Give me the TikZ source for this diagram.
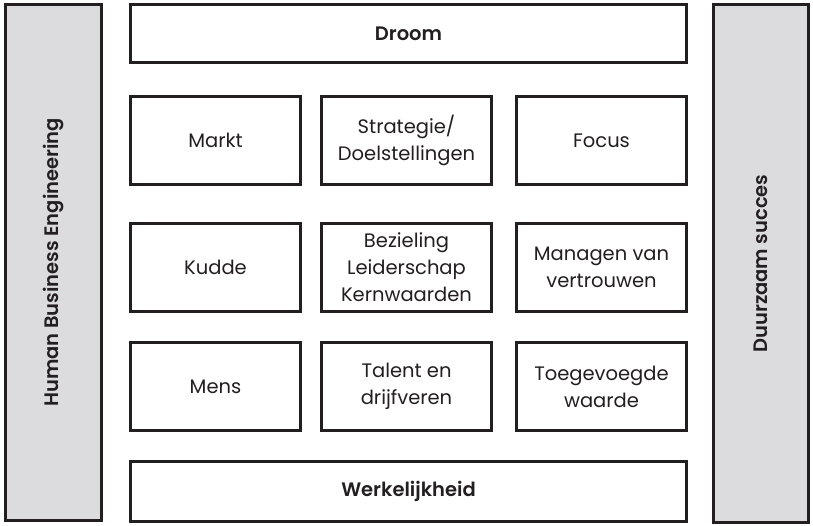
\documentclass[tikz,border=0pt]{standalone}
\usepackage{fontspec}
\setmainfont{Poppins}[BoldFont={Poppins SemiBold}]
\definecolor{edge}{HTML}{231F20}
\definecolor{barfill}{HTML}{DCDCDE}
\begin{document}
\begin{tikzpicture}[x=1pt,y=1pt,
  box/.style={draw=edge, line width=2.6pt, fill=white, rectangle, inner sep=0pt,
    align=center, text=edge, font=\fontsize{19.5}{27}\selectfont},
  cell/.style={box, minimum width=170.4pt, minimum height=88.4pt},
  bar/.style={box, fill=barfill},
  vtext/.style={rotate=90, text=edge, font=\fontsize{19.5}{27}\selectfont\bfseries},
  wide/.style={box, minimum width=556.4pt, font=\fontsize{19.5}{27}\selectfont\bfseries}
]
\useasboundingbox (0,0) rectangle (813,-526);
% side bars
\node[bar, minimum width=96.4pt, minimum height=516.4pt] (hbe) at (53.5,-262.5) {};
\node[vtext] (hbetxt) at (hbe.center) {Human Business Engineering};
\node[bar, minimum width=95.4pt, minimum height=518.4pt] (ds) at (761,-263.5) {};
\node[vtext] (dstxt) at (ds.center) {Duurzaam succes};
% top and bottom
\node[wide, minimum height=58.4pt] (droom) at (408.5,-33.5) {Droom};
\node[wide, minimum height=60.4pt] (werk) at (408.5,-491.5) {Werkelijkheid};
% grid
\node[cell] (markt) at (215.5,-140.5) {Markt};
\node[cell] (strat) at (406.5,-140.5) {Strategie/\\Doelstellingen};
\node[cell] (focus) at (601.5,-140.5) {Focus};
\node[cell] (kudde) at (215.5,-267.5) {Kudde};
\node[cell] (bez) at (406.5,-267.5) {Bezieling\\Leiderschap\\Kernwaarden};
\node[cell] (man) at (601.5,-267.5) {Managen van\\vertrouwen};
\node[cell] (mens) at (215.5,-386.5) {Mens};
\node[cell] (tal) at (406.5,-386.5) {Talent en\\drijfveren};
\node[cell] (toe) at (601.5,-386.5) {Toegevoegde\\waarde};
\end{tikzpicture}
\end{document}
